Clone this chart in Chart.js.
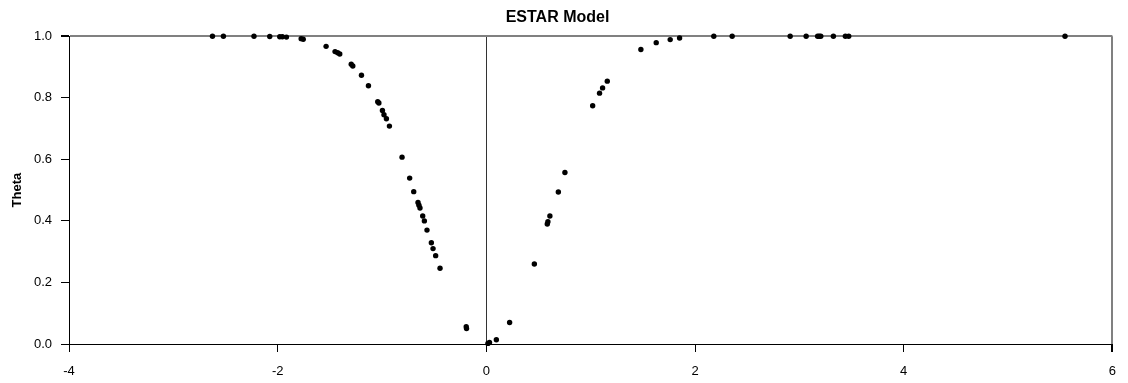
<!DOCTYPE html>
<html>
<head>
<meta charset="utf-8">
<script src="https://cdn.jsdelivr.net/npm/chart.js@4/dist/chart.umd.min.js"></script>
<style>
    html, body { margin: 0; padding: 0; background: #fff; }
    #wrap { width: 1128px; height: 383px; }
</style>
</head>
<body>
<div id="wrap"><canvas id="chart"></canvas></div>
<script>
const chartTitle = "ESTAR Model";
const yTitle = "Theta";
const xTicks = [-4, -2, 0, 2, 4, 6];
const yTicks = [0.0, 0.2, 0.4, 0.6, 0.8, 1.0];

// transition variable vs. theta
const xValues = [
    -2.625, -2.520, -2.227, -2.076, -1.980, -1.955, -1.916, -1.775, -1.755, -1.536,
    -1.450, -1.425, -1.405, -1.295, -1.280, -1.197, -1.130, -1.041, -1.030, -0.996,
    -0.981, -0.958, -0.929, -0.808, -0.735, -0.696, -0.655, -0.646, -0.636, -0.610,
    -0.594, -0.569, -0.527, -0.511, -0.486, -0.444, -0.193, -0.190, 0.015, 0.030,
    0.096, 0.223, 0.460, 0.584, 0.590, 0.609, 0.690, 0.753, 1.019, 1.085,
    1.114, 1.159, 1.481, 1.628, 1.762, 1.852, 2.180, 2.356, 2.912, 3.065,
    3.175, 3.190, 3.205, 3.326, 3.441, 3.473, 5.546,
];
const thetaValues = [
    1.000, 1.000, 1.000, 0.999, 0.998, 0.998, 0.997, 0.992, 0.990, 0.967,
    0.950, 0.946, 0.942, 0.909, 0.903, 0.873, 0.839, 0.787, 0.783, 0.759,
    0.745, 0.732, 0.708, 0.607, 0.539, 0.495, 0.460, 0.451, 0.442, 0.416,
    0.400, 0.370, 0.329, 0.310, 0.287, 0.246, 0.056, 0.050, 0.002, 0.005,
    0.014, 0.070, 0.260, 0.390, 0.397, 0.416, 0.494, 0.557, 0.774, 0.815,
    0.832, 0.854, 0.957, 0.979, 0.989, 0.994, 1.000, 1.000, 1.000, 1.000,
    1.000, 1.000, 1.000, 1.000, 1.000, 1.000, 1.000,
];

const points = xValues.map((x, i) => ({ x, y: thetaValues[i] }));
const FONT = "'Liberation Sans', Arial, sans-serif";

new Chart(document.getElementById("chart"), {
    type: "scatter",
    data: {
        datasets: [{
            data: points,
            backgroundColor: "#000",
            borderColor: "#000",
            pointRadius: 2.7,
            pointBorderWidth: 0,
            clip: false,
        }],
    },
    options: {
        responsive: true,
        maintainAspectRatio: false,
        animation: false,
        devicePixelRatio: 1,
        layout: { padding: { left: 0, right: 13, top: 0, bottom: 0 } },
        plugins: {
            legend: { display: false },
            tooltip: { enabled: false },
            title: {
                display: true,
                text: chartTitle,
                color: "#000",
                font: { family: FONT, size: 16, weight: "bold" },
                padding: { top: 8, bottom: 9 },
            },
        },
        scales: {
            x: {
                type: "linear",
                min: xTicks[0],
                max: xTicks[xTicks.length - 1],
                afterBuildTicks: (scale) => { scale.ticks = xTicks.map((v) => ({ value: v })); },
                afterFit: (scale) => { scale.height = 39; },
                ticks: {
                    color: "#000",
                    font: { family: FONT, size: 13 },
                    padding: 12,
                    maxRotation: 0,
                    callback: (v) => String(v),
                },
                grid: {
                    drawOnChartArea: true,
                    tickLength: 8,
                    tickColor: "#000",
                    color: (ctx) => ctx.tick && ctx.tick.value === 0 ? "#333" : ctx.tick && ctx.tick.value === 6 ? "#808080" : "rgba(0,0,0,0)",
                    lineWidth: (ctx) => ctx.tick && ctx.tick.value === 6 ? 2 : 1,
                },
                border: { color: "#000", width: 1 },
            },
            y: {
                type: "linear",
                min: yTicks[0],
                max: yTicks[yTicks.length - 1],
                afterBuildTicks: (scale) => { scale.ticks = yTicks.map((v) => ({ value: v })); },
                afterFit: (scale) => { scale.width = 69; },
                ticks: {
                    color: "#000",
                    font: { family: FONT, size: 13 },
                    padding: 9,
                    callback: (v) => Number(v).toFixed(1),
                },
                grid: {
                    tickLength: 8,
                    tickColor: "#000",
                    color: (ctx) => ctx.tick && ctx.tick.value === 1 ? "#808080" : "rgba(0,0,0,0)",
                    lineWidth: (ctx) => ctx.tick && ctx.tick.value === 1 ? 2 : 1,
                },
                border: { color: "#000", width: 1 },
                title: {
                    display: true,
                    text: yTitle,
                    color: "#000",
                    font: { family: FONT, size: 13, weight: "bold" },
                    padding: { top: 10, bottom: 0 },
                },
            },
        },
    },
});
</script>
</body>
</html>
